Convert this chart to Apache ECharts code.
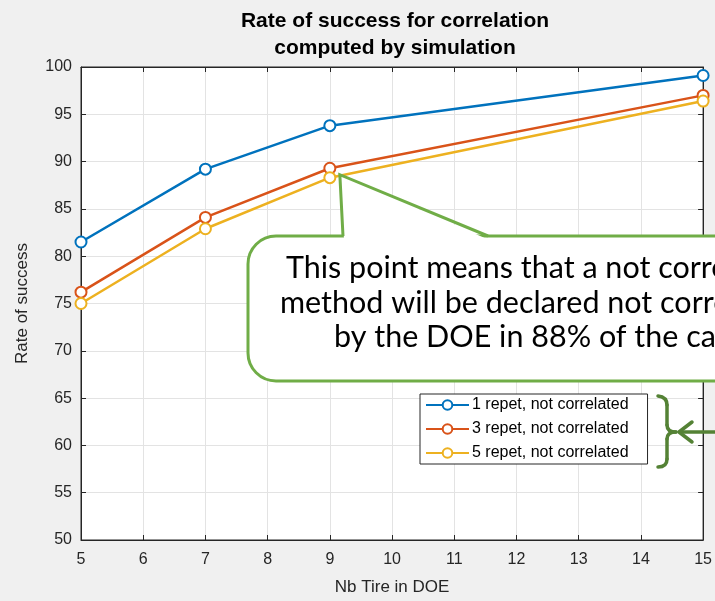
<!DOCTYPE html>
<html>
<head>
<meta charset="utf-8">
<script src="https://cdn.jsdelivr.net/npm/echarts@6/dist/echarts.min.js"></script>
<style>
  html, body { margin: 0; padding: 0; background: #f0f0f0; }
  #chart { width: 715px; height: 601px; }
</style>
</head>
<body>
<div id="chart"></div>
<script>
// values
var nbTire = [5, 7, 9, 15];
var repet1 = [81.5, 89.2, 93.8, 99.1];
var repet3 = [76.2, 84.1, 89.3, 97.0];
var repet5 = [75.0, 82.9, 88.3, 96.4];
var seriesNames = ['1 repet, not correlated', '3 repet, not correlated', '5 repet, not correlated'];
var seriesColors = ['#0072BD', '#D95319', '#EDB120'];
var calloutLines = [
  'This point means that a not correlated',
  'method will be declared not correlated',
  'by the DOE in 88% of the cases'
];

var axisColor = '#262626';
var gridColor = '#e3e3e3';
var fontName = '"Liberation Sans", Arial, sans-serif';

function makeSeries(name, values, color) {
  return {
    name: name,
    type: 'line',
    data: nbTire.map(function (x, i) { return [x, values[i]]; }),
    symbol: 'emptyCircle',
    symbolSize: 11,
    lineStyle: { color: color, width: 2.5 },
    itemStyle: { color: color, borderColor: color, borderWidth: 2 },
    emphasis: { disabled: true }
  };
}

function mirrorAxis(position, min, max, interval) {
  return {
    type: 'value', position: position, min: min, max: max, interval: interval,
    axisLine: { show: true, lineStyle: { color: axisColor, width: 1 } },
    axisTick: { show: true, inside: true, length: 5, lineStyle: { color: axisColor } },
    axisLabel: { show: false },
    splitLine: { show: false }
  };
}

var chart = echarts.init(document.getElementById('chart'));

chart.setOption({
  animation: false,
  backgroundColor: '#f0f0f0',
  textStyle: { fontFamily: fontName },
  title: {
    text: 'Rate of success for correlation\ncomputed by simulation',
    left: 390, top: 3, textAlign: 'center',
    textStyle: { fontFamily: fontName, fontSize: 21, fontWeight: 'bold', lineHeight: 27, color: '#000' }
  },
  grid: {
    left: 81, right: 11, top: 67, bottom: 60,
    show: true, backgroundColor: '#fff', borderColor: axisColor, borderWidth: 1
  },
  legend: {
    data: seriesNames,
    orient: 'vertical',
    left: 420, top: 394,
    backgroundColor: '#fff', borderColor: axisColor, borderWidth: 1,
    padding: [3, 19, 3, 5],
    itemGap: 8, itemWidth: 43, itemHeight: 12,
    textStyle: { fontFamily: fontName, fontSize: 16, color: '#000', padding: [0, 0, 0, -2] }
  },
  xAxis: [{
    type: 'value', position: 'bottom', min: 5, max: 15, interval: 1,
    name: 'Nb Tire in DOE', nameLocation: 'middle', nameGap: 39,
    nameTextStyle: { fontFamily: fontName, fontSize: 17, color: axisColor },
    axisLine: { show: true, lineStyle: { color: axisColor, width: 1 } },
    axisTick: { show: true, inside: true, length: 5, lineStyle: { color: axisColor } },
    axisLabel: { fontFamily: fontName, fontSize: 16, color: axisColor, margin: 12 },
    splitLine: { show: true, lineStyle: { color: gridColor, width: 1 } }
  }, mirrorAxis('top', 5, 15, 1)],
  yAxis: [{
    type: 'value', position: 'left', min: 50, max: 100, interval: 5,
    name: 'Rate of success', nameLocation: 'middle', nameGap: 50,
    nameTextStyle: { fontFamily: fontName, fontSize: 17, color: axisColor },
    axisLine: { show: true, lineStyle: { color: axisColor, width: 1 } },
    axisTick: { show: true, inside: true, length: 5, lineStyle: { color: axisColor } },
    axisLabel: { fontFamily: fontName, fontSize: 16, color: axisColor, margin: 9 },
    splitLine: { show: true, lineStyle: { color: gridColor, width: 1 } }
  }, mirrorAxis('right', 50, 100, 5)],
  series: [
    makeSeries(seriesNames[0], repet1, seriesColors[0]),
    makeSeries(seriesNames[1], repet3, seriesColors[1]),
    makeSeries(seriesNames[2], repet5, seriesColors[2])
  ]
});

// callout pointing at the 5-repet point at 9 tires
var tip = chart.convertToPixel({ xAxisIndex: 0, yAxisIndex: 0 }, [nbTire[2], repet5[2]]);
var tx = tip[0] + 10, ty = tip[1] - 3;
var green = '#70AD47';
var darkGreen = '#548235';
var calloutFont = 'Lato, "Open Sans", sans-serif';
var calloutStarts = [286, 280, 334];
var calloutYs = [268, 303, 337];

var graphics = [{
  type: 'rect', z: 100,
  shape: { x: 248, y: 236, width: 700, height: 145, r: [28, 0, 0, 28] },
  style: { fill: '#fff', stroke: green, lineWidth: 3 }
}, {
  type: 'polygon', z: 101,
  shape: { points: [[344, 239], [tx, ty], [487, 239]] },
  style: { fill: '#fff' }
}, {
  type: 'polyline', z: 102,
  shape: { points: [[343, 236], [tx, ty], [488, 236]] },
  style: { fill: null, stroke: green, lineWidth: 3, lineJoin: 'miter' }
}];
calloutLines.forEach(function (line, i) {
  graphics.push({
    type: 'text', z: 103, x: calloutStarts[i], y: calloutYs[i],
    style: { text: line, font: '30.5px ' + calloutFont, fill: '#000', textAlign: 'left', textVerticalAlign: 'middle' }
  });
});

// brace and arrow next to the legend
var braceStyle = { fill: null, stroke: darkGreen, lineWidth: 3.5, lineCap: 'round' };
[
  [658, 396, 667, 405, 667, 397],
  [667, 425, 676, 432, 667, 432],
  [676, 432, 667, 439, 667, 432],
  [667, 459, 658, 467, 667, 467]
].forEach(function (c) {
  graphics.push({
    type: 'bezierCurve', z: 100,
    shape: { x1: c[0], y1: c[1], x2: c[2], y2: c[3], cpx1: c[4], cpy1: c[5] },
    style: braceStyle
  });
});
graphics.push({ type: 'line', z: 100, shape: { x1: 667, y1: 405, x2: 667, y2: 425 }, style: braceStyle });
graphics.push({ type: 'line', z: 100, shape: { x1: 667, y1: 439, x2: 667, y2: 459 }, style: braceStyle });
graphics.push({ type: 'line', z: 100, shape: { x1: 716, y1: 432, x2: 680, y2: 432 }, style: braceStyle });
graphics.push({
  type: 'polyline', z: 100,
  shape: { points: [[692, 422], [679, 432], [692, 442]] },
  style: { fill: null, stroke: darkGreen, lineWidth: 3.5, lineCap: 'round', lineJoin: 'round' }
});

chart.setOption({ graphic: graphics });
</script>
</body>
</html>
